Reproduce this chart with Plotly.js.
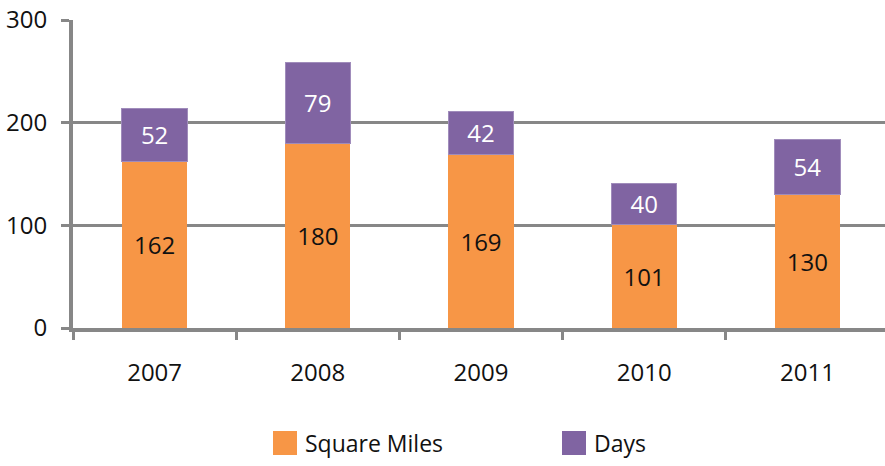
<!DOCTYPE html>
<html>
<head>
<meta charset="utf-8">
<script src="https://cdn.plot.ly/plotly-3.0.1.min.js"></script>
<style>html,body{margin:0;padding:0;background:#fff;overflow:hidden;}#chart{width:889px;height:466px;}</style>
</head>
<body>
<div id="chart"></div>
<script>
const years = ["2007", "2008", "2009", "2010", "2011"];
const squareMiles = [162, 180, 169, 101, 130];
const days = [52, 79, 42, 40, 54];
const seriesNames = ["Square Miles", "Days"];
const yTicks = [0, 100, 200, 300];

const orange = "#F79646";
const purple = "#8064A2";
const gray = "#878787";
const FONT = "Open Sans, sans-serif";

const traces = [
  {
    type: "bar", name: seriesNames[0], x: years, y: squareMiles,
    marker: {color: orange},
    text: squareMiles.map(String), textposition: "inside", insidetextanchor: "middle",
    constraintext: "none", textangle: 0,
    insidetextfont: {family: FONT, size: 24, color: "#111"},
    hoverinfo: "none"
  },
  {
    type: "bar", name: seriesNames[1], x: years, y: days,
    marker: {color: purple, line: {color: "#a08cbb", width: 1}},
    text: days.map(String), textposition: "inside", insidetextanchor: "middle",
    constraintext: "none", textangle: 0,
    insidetextfont: {family: FONT, size: 24, color: "#ffffff"},
    hoverinfo: "none"
  }
];

// custom legend with large swatches (paper coords)
const L = 73, T = 20, W = 816, H = 308;
const px = v => (v - L) / W;
const py = v => (T + H - v) / H;
const shapes = [
  {type: "rect", xref: "paper", yref: "paper", x0: px(273), x1: px(297), y0: py(455), y1: py(431), fillcolor: orange, line: {width: 0}},
  {type: "rect", xref: "paper", yref: "paper", x0: px(562), x1: px(586), y0: py(455), y1: py(431), fillcolor: purple, line: {width: 0}}
];
const annotations = [
  {xref: "paper", yref: "paper", x: px(303), y: py(443), xanchor: "left", yanchor: "middle", text: seriesNames[0], showarrow: false, font: {family: FONT, size: 23, color: "#111"}},
  {xref: "paper", yref: "paper", x: px(592), y: py(443), xanchor: "left", yanchor: "middle", text: seriesNames[1], showarrow: false, font: {family: FONT, size: 23, color: "#111"}}
];

const layout = {
  width: 889, height: 466,
  margin: {l: L, r: 0, t: T, b: 466 - T - H, pad: 0},
  paper_bgcolor: "#fff", plot_bgcolor: "#fff",
  barmode: "stack", bargap: 0.6,
  showlegend: false,
  font: {family: FONT, size: 24, color: "#111"},
  xaxis: {
    type: "category", showline: true, linecolor: gray, linewidth: 4,
    ticks: "outside", tickson: "boundaries", ticklen: 8, tickwidth: 3, tickcolor: gray,
    ticklabelstandoff: 20,
    showgrid: false, zeroline: false, fixedrange: true,
    tickfont: {family: FONT, size: 24, color: "#111"}
  },
  yaxis: {
    range: [0, 300], tickvals: yTicks, ticktext: yTicks.map(String),
    showline: true, linecolor: gray, linewidth: 4,
    ticks: "outside", ticklen: 8, tickwidth: 3, tickcolor: gray,
    ticklabelstandoff: 9,
    showgrid: true, gridcolor: gray, gridwidth: 3.5, zeroline: false, fixedrange: true,
    tickfont: {family: FONT, size: 24, color: "#111"}
  },
  shapes: shapes,
  annotations: annotations
};

Plotly.newPlot("chart", traces, layout, {displayModeBar: false, staticPlot: true});
</script>
</body>
</html>
